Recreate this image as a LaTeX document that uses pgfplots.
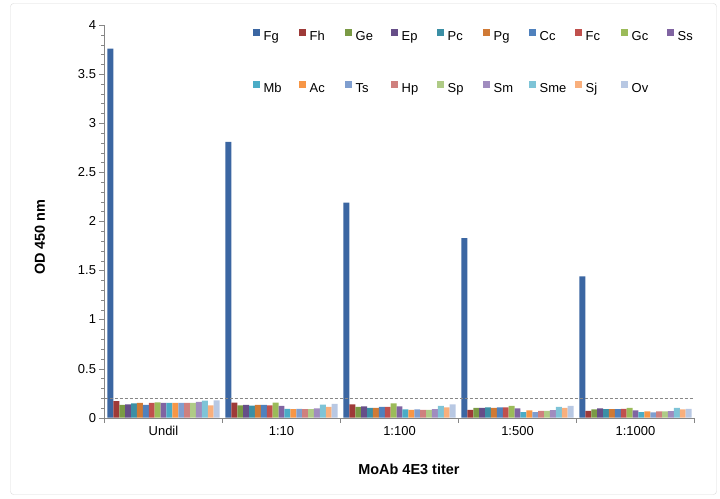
\documentclass[border=0pt]{standalone}
\usepackage{pgfplots}
\pgfplotsset{compat=1.18}
\usepackage{pgfplotstable}
\usepackage{fontspec}
\setmainfont{Liberation Sans}

\definecolor{cFg}{HTML}{3B66A2}
\definecolor{cFh}{HTML}{9E3A38}
\definecolor{cGe}{HTML}{7A9A45}
\definecolor{cEp}{HTML}{664E88}
\definecolor{cPc}{HTML}{3B8FA5}
\definecolor{cPg}{HTML}{D07A35}
\definecolor{cCc}{HTML}{4F81BD}
\definecolor{cFc}{HTML}{C0504D}
\definecolor{cGc}{HTML}{9BBB59}
\definecolor{cSs}{HTML}{8064A2}
\definecolor{cMb}{HTML}{4BACC6}
\definecolor{cAc}{HTML}{F79646}
\definecolor{cTs}{HTML}{7F9ECF}
\definecolor{cHp}{HTML}{CF807E}
\definecolor{cSp}{HTML}{AFCB86}
\definecolor{cSm}{HTML}{A08CBF}
\definecolor{cSme}{HTML}{7EC4D7}
\definecolor{cSj}{HTML}{F9AF7C}
\definecolor{cOv}{HTML}{B8C8E3}
\definecolor{axgray}{HTML}{868686}
\definecolor{framegray}{HTML}{D9D9D9}

\pgfplotstableread{
x Fg Fh Ge Ep Pc Pg Cc Fc Gc Ss Mb Ac Ts Hp Sp Sm Sme Sj Ov
0 3.76 0.170 0.130 0.136 0.146 0.150 0.130 0.150 0.156 0.150 0.150 0.150 0.150 0.150 0.152 0.160 0.173 0.126 0.176
1 2.81 0.153 0.126 0.130 0.122 0.130 0.130 0.126 0.153 0.120 0.090 0.088 0.090 0.088 0.088 0.095 0.132 0.110 0.140
2 2.19 0.136 0.110 0.115 0.100 0.100 0.110 0.110 0.146 0.115 0.085 0.080 0.085 0.080 0.080 0.088 0.120 0.105 0.136
3 1.83 0.080 0.100 0.100 0.105 0.100 0.105 0.105 0.120 0.095 0.058 0.075 0.058 0.070 0.070 0.078 0.110 0.100 0.120
4 1.44 0.070 0.085 0.095 0.088 0.088 0.088 0.090 0.100 0.075 0.058 0.065 0.055 0.065 0.065 0.068 0.100 0.085 0.090
}\datatable

\newcommand{\LE}[1]{\hspace{4bp}\makebox[35.5bp][l]{\rule[-2.5bp]{0pt}{12bp}#1}}

\pgfplotsset{
  mybar/.style={fill=#1, draw=none,
    legend image code/.code={\fill[##1] (0bp,1bp) rectangle (6.5bp,7.5bp);}},
}

\begin{document}
\begin{tikzpicture}
\path[use as bounding box] (0,0) rectangle (720bp,499bp);
\draw[framegray, rounded corners=3bp] (10.5bp,4.5bp) rectangle (716.5bp,495.5bp);
\begin{axis}[
  at={(104.5bp,81.3bp)}, anchor=south west,
  scale only axis, width=590bp, height=392.7bp,
  ybar=0pt, bar width=0.05,
  xmin=-0.5, xmax=4.5, ymin=0, ymax=4,
  xtick={-0.5,0.5,...,4.5},
  xticklabels={Undil,1:10,1:100,1:500,1:1000},
  x tick label as interval,
  ytick={0,0.5,...,4},
  minor y tick num=4,
  major tick length=5bp, minor tick length=3bp,
  tick align=outside,
  axis lines*=left,
  axis line style={axgray},
  tick style={axgray},
  /pgf/number format/assume math mode=true,
  tick label style={font=\fontsize{13}{15}\selectfont},
  xlabel={MoAb 4E3 titer},
  ylabel={OD 450 nm},
  label style={font=\bfseries\fontsize{14.5}{17}\selectfont},
  xlabel style={at={(axis description cs:0.516,-0.1306)}, anchor=center},
  ylabel style={at={(axis description cs:-0.1093,0.460)}, anchor=center, rotate=0},
  legend columns=10,
  legend cell align=left,
  legend style={draw=none, fill=none, at={(0.2517,0.99)}, anchor=north west,
    inner sep=0pt, column sep=0pt, row sep=39bp,
    nodes={inner sep=0pt},
    font=\fontsize{13}{15}\selectfont},
]
\addplot[mybar=cFg] table[x=x,y=Fg] {\datatable};
\addplot[mybar=cFh] table[x=x,y=Fh] {\datatable};
\addplot[mybar=cGe] table[x=x,y=Ge] {\datatable};
\addplot[mybar=cEp] table[x=x,y=Ep] {\datatable};
\addplot[mybar=cPc] table[x=x,y=Pc] {\datatable};
\addplot[mybar=cPg] table[x=x,y=Pg] {\datatable};
\addplot[mybar=cCc] table[x=x,y=Cc] {\datatable};
\addplot[mybar=cFc] table[x=x,y=Fc] {\datatable};
\addplot[mybar=cGc] table[x=x,y=Gc] {\datatable};
\addplot[mybar=cSs] table[x=x,y=Ss] {\datatable};
\addplot[mybar=cMb] table[x=x,y=Mb] {\datatable};
\addplot[mybar=cAc] table[x=x,y=Ac] {\datatable};
\addplot[mybar=cTs] table[x=x,y=Ts] {\datatable};
\addplot[mybar=cHp] table[x=x,y=Hp] {\datatable};
\addplot[mybar=cSp] table[x=x,y=Sp] {\datatable};
\addplot[mybar=cSm] table[x=x,y=Sm] {\datatable};
\addplot[mybar=cSme] table[x=x,y=Sme] {\datatable};
\addplot[mybar=cSj] table[x=x,y=Sj] {\datatable};
\addplot[mybar=cOv] table[x=x,y=Ov] {\datatable};
\legend{\LE{Fg},\LE{Fh},\LE{Ge},\LE{Ep},\LE{Pc},\LE{Pg},\LE{Cc},\LE{Fc},\LE{Gc},\LE{Ss},\LE{Mb},\LE{Ac},\LE{Ts},\LE{Hp},\LE{Sp},\LE{Sm},\LE{Sme},\LE{Sj},\LE{Ov}}
\draw[axgray, dash pattern=on 3bp off 2bp] (axis cs:-0.5,0.2) -- (axis cs:4.5,0.2);
\end{axis}
\end{tikzpicture}
\end{document}
